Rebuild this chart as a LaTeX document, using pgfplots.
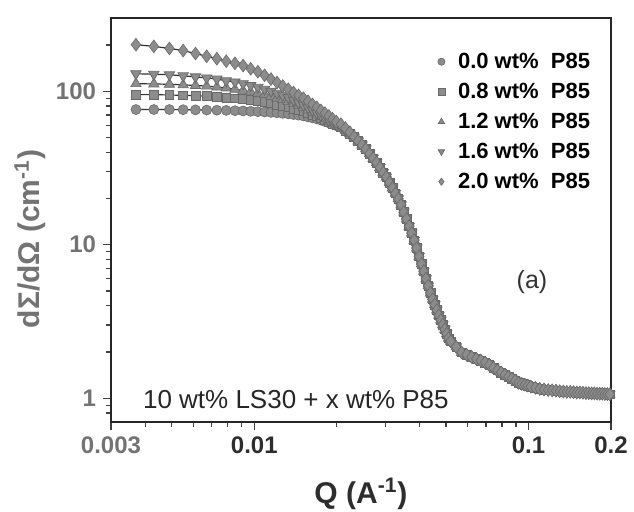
\documentclass[border=0pt]{standalone}
\usepackage{fontspec}
\setmainfont{Liberation Sans}
\usepackage{pgfplots}
\pgfplotsset{compat=1.18}
\usepackage{pgfplotstable}
\definecolor{mk}{RGB}{140,140,140}
\definecolor{mkd}{RGB}{105,105,105}
\definecolor{fitc}{RGB}{50,50,50}
\definecolor{ylab}{RGB}{115,115,115}
\definecolor{xlab}{RGB}{45,45,45}

\pgfplotstableread{
Q a b c d e
0.0037 76 95 112 130 201
0.0043 76 95 111.5 129 196
0.0049 76 94.5 111 128 190
0.0055 75.8 94 110 126 184
0.0061 75.6 93.5 109 124 176
0.0067 75.4 93 108 122 169
0.0073 75.2 92 106.5 120 163
0.0079 75 91 105 117 157
0.0085 74.7 90 103 115 152
0.0091 74.4 89 101 112 147
0.0097 74 88 99 109 140
0.0103 73.6 86.5 97 106 134
0.0109 73.2 85 95 103 127
0.0115 72.8 83.5 92.5 100 120
0.0121 72.3 82 90 97 114
0.0127 71.8 80.5 88 94 108
0.0133 71.2 79 85.5 91 103
0.0139 70.5 77 83 87.5 98
0.0145 69.8 75.5 80.5 84 94
0.0151 69 74 78 81 90
0.0157 68 72 75.5 78 86
0.0163 67 70.5 73 75 82
0.0169 66 69 71 72 78.5
0.0175 64.8 67 68.5 69.5 75
0.0181 63.5 65 66.5 67 72
0.0187 62.2 63 64 64.5 69
0.0193 61 61.5 62 62.5 66
0.0199 59.7 60 60 60.5 63.5
0.0207 58.2 58.3 58.4 58.5 61
0.0215 55.5 55.5 55.6 55.6 57.5
0.0223 52.8 52.8 52.8 52.9 54
0.0231 50.2 50.2 50.2 50.2 50.6
0.0239 47.3 47.3 47.3 47.3 47.5
0.0247 44.6 44.6 44.6 44.6 44.6
0.0255 42.1 42.1 42.1 42.1 42.1
0.0263 39.2 39.2 39.2 39.2 39.2
0.0271 36.6 36.6 36.6 36.6 36.6
0.0279 34.3 34.3 34.3 34.3 34.3
0.0287 31.8 31.8 31.8 31.8 31.8
0.0295 29.5 29.5 29.5 29.5 29.5
0.0303 27.6 27.6 27.6 27.6 27.6
0.0311 25.4 25.4 25.4 25.4 25.4
0.0319 23.4 23.4 23.4 23.4 23.4
0.0327 21.6 21.6 21.6 21.6 21.6
0.0335 19.9 19.9 19.9 19.9 19.9
0.0343 18.2 18.2 18.2 18.2 18.2
0.0351 16.3 16.3 16.3 16.3 16.3
0.0359 14.7 14.7 14.7 14.7 14.7
0.0367 13.2 13.2 13.2 13.2 13.2
0.0375 11.9 11.9 11.9 11.9 11.9
0.0383 10.7 10.7 10.7 10.7 10.7
0.0391 9.5 9.5 9.5 9.5 9.5
0.0399 8.4 8.4 8.4 8.4 8.4
0.0407 7.5 7.5 7.5 7.5 7.5
0.0415 6.71 6.71 6.71 6.71 6.71
0.0423 6.00 6.00 6.00 6.00 6.00
0.0431 5.39 5.39 5.39 5.39 5.39
0.0439 4.85 4.85 4.85 4.85 4.85
0.0447 4.41 4.41 4.41 4.41 4.41
0.0455 4.07 4.07 4.07 4.07 4.07
0.0463 3.75 3.75 3.75 3.75 3.75
0.0471 3.47 3.47 3.47 3.47 3.47
0.0479 3.23 3.23 3.23 3.23 3.23
0.0487 3.01 3.01 3.01 3.01 3.01
0.0495 2.81 2.81 2.81 2.81 2.81
0.0503 2.63 2.63 2.63 2.63 2.63
0.0511 2.46 2.46 2.46 2.46 2.46
0.0520 2.35 2.35 2.35 2.35 2.35
0.0545 2.16 2.16 2.16 2.16 2.16
0.0570 1.99 1.99 1.99 1.99 1.99
0.0595 1.92 1.92 1.92 1.92 1.92
0.0620 1.86 1.86 1.86 1.86 1.86
0.0645 1.81 1.81 1.81 1.81 1.81
0.0670 1.76 1.76 1.76 1.76 1.76
0.0695 1.71 1.71 1.71 1.71 1.71
0.0720 1.65 1.65 1.65 1.65 1.65
0.0745 1.58 1.58 1.58 1.58 1.58
0.0770 1.52 1.52 1.52 1.52 1.52
0.0795 1.47 1.47 1.47 1.47 1.47
0.0820 1.42 1.42 1.42 1.42 1.42
0.0845 1.38 1.38 1.38 1.38 1.38
0.0870 1.34 1.34 1.34 1.34 1.34
0.0895 1.30 1.30 1.30 1.30 1.30
0.0920 1.26 1.26 1.26 1.26 1.26
0.0945 1.24 1.24 1.24 1.24 1.24
0.0970 1.225 1.225 1.225 1.225 1.225
0.0995 1.21 1.21 1.21 1.21 1.21
0.102 1.19 1.19 1.19 1.19 1.19
0.106 1.17 1.17 1.17 1.17 1.17
0.110 1.15 1.15 1.15 1.15 1.15
0.114 1.14 1.14 1.14 1.14 1.14
0.118 1.13 1.13 1.13 1.13 1.13
0.122 1.125 1.125 1.125 1.125 1.125
0.126 1.12 1.12 1.12 1.12 1.12
0.130 1.11 1.11 1.11 1.11 1.11
0.134 1.105 1.105 1.105 1.105 1.105
0.138 1.10 1.10 1.10 1.10 1.10
0.142 1.10 1.10 1.10 1.10 1.10
0.146 1.095 1.095 1.095 1.095 1.095
0.150 1.09 1.09 1.09 1.09 1.09
0.154 1.09 1.09 1.09 1.09 1.09
0.158 1.085 1.085 1.085 1.085 1.085
0.162 1.08 1.08 1.08 1.08 1.08
0.166 1.08 1.08 1.08 1.08 1.08
0.170 1.075 1.075 1.075 1.075 1.075
0.174 1.075 1.075 1.075 1.075 1.075
0.178 1.07 1.07 1.07 1.07 1.07
0.182 1.07 1.07 1.07 1.07 1.07
0.186 1.07 1.07 1.07 1.07 1.07
0.190 1.065 1.065 1.065 1.065 1.065
0.194 1.065 1.065 1.065 1.065 1.065
0.198 1.06 1.06 1.06 1.06 1.06
}\datatab

\begin{document}
\begin{tikzpicture}
\useasboundingbox (-55.5pt,-45pt) rectangle (261.5pt,211pt);
\begin{axis}[
  scale only axis, width=250pt, height=202pt,
  xmode=log, ymode=log,
  xmin=0.003, xmax=0.2, ymin=0.7, ymax=300,
  xtick={0.003,0.01,0.1,0.2},
  xticklabels={\textcolor{ylab}{0.003},0.01,0.1,0.2},
  ytick={1,10,100}, yticklabels={1,10,100},
  minor xtick={0.004,0.005,0.006,0.007,0.008,0.009,0.02,0.03,0.04,0.05,0.06,0.07,0.08,0.09},
  minor ytick={0.8,0.9,2,3,4,5,6,7,8,9,20,30,40,50,60,70,80,90,200},
  tick align=outside, tick pos=left,
  major tick length=4pt, minor tick length=2.5pt,
  axis line style={line width=1pt, black!85},
  every tick/.style={black!75, line width=0.6pt},
  /pgf/number format/assume math mode=true,
  tick label style={font=\bfseries\fontsize{12}{14}\selectfont},
  xticklabel style={text=xlab},
  yticklabel style={text=ylab},
  xlabel={Q (A\textsuperscript{-1})},
  xlabel style={font=\bfseries\fontsize{15}{18}\selectfont, text=xlab, at={(axis description cs:0.5,-0.178)}, anchor=center},
  ylabel={dΣ/dΩ (cm\textsuperscript{-1})},
  ylabel style={font=\bfseries\fontsize{15}{18}\selectfont, text=ylab, at={(axis description cs:-0.162,0.453)}, anchor=center},
  legend style={draw=none, fill=none, at={(axis description cs:0.975,0.93)}, anchor=north east,
    font=\bfseries\fontsize{11}{13}\selectfont, row sep=4pt,
    nodes={text height=8pt, text depth=1pt, inner sep=1pt},
    /tikz/every odd column/.append style={column sep=5.5pt}},
  legend cell align=left,
  legend image post style={mark size=1.8pt},
  every axis plot/.append style={mark options={fill=mk, draw=mkd, line width=0.3pt}},
]
\addplot[only marks, mark=*, mark size=2.5pt] table[x=Q, y=a] {\datatab};
\addlegendentry{0.0 wt\%\ \ P85}
\addplot[only marks, mark=square*, mark size=2.2pt] table[x=Q, y=b] {\datatab};
\addlegendentry{0.8 wt\%\ \ P85}
\addplot[only marks, mark=triangle*, mark size=3pt] table[x=Q, y=c] {\datatab};
\addlegendentry{1.2 wt\%\ \ P85}
\addplot[only marks, mark=triangle*, mark size=3pt, mark options={rotate=180, fill=mk, draw=mkd}] table[x=Q, y=d] {\datatab};
\addlegendentry{1.6 wt\%\ \ P85}
\addplot[only marks, mark=diamond*, mark size=3.2pt] table[x=Q, y=e] {\datatab};
\addlegendentry{2.0 wt\%\ \ P85}
\addplot[no marks, fitc, line width=0.6pt, forget plot] table[x=Q, y=a] {\datatab};
\addplot[no marks, fitc, line width=0.6pt, forget plot] table[x=Q, y=b] {\datatab};
\addplot[no marks, fitc, line width=0.6pt, forget plot] table[x=Q, y=c] {\datatab};
\addplot[no marks, fitc, line width=0.6pt, forget plot] table[x=Q, y=d] {\datatab};
\addplot[no marks, fitc, line width=0.6pt, forget plot] table[x=Q, y=e] {\datatab};
\node[font=\fontsize{12.5}{15}\selectfont, text=black!80] at (axis description cs:0.842,0.347) {(a)};
\node[anchor=west, font=\fontsize{13}{15}\selectfont, text=black!85] at (axis description cs:0.05,0.0545) {10 wt\% LS30 + x wt\% P85};
\end{axis}
\end{tikzpicture}
\end{document}
